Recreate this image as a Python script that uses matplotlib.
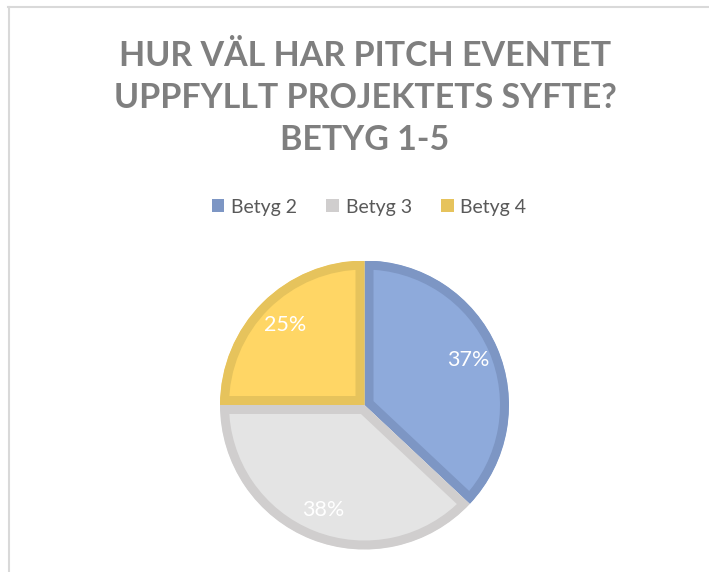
import matplotlib.pyplot as plt
from matplotlib.patches import Patch, Wedge
from matplotlib.lines import Line2D

# data
categories = ['Betyg 2', 'Betyg 3', 'Betyg 4']
values = [37, 38, 25]
title = 'HUR VÄL HAR PITCH EVENTET\nUPPFYLLT PROJEKTETS SYFTE?\nBETYG 1-5'

fills = ['#8eaadb', '#e4e4e4', '#ffd665']
borders = ['#7d96c4', '#d0cece', '#e6c35c']

W, H = 709, 572
fig = plt.figure(figsize=(W / 100, H / 100), dpi=100)
fig.patch.set_facecolor('white')

# chart frame (only top and left visible)
fig.add_artist(Line2D([8 / W, 1], [1 - 7 / H, 1 - 7 / H], color='#d9d9d9', lw=1.5))
fig.add_artist(Line2D([8.5 / W, 8.5 / W], [0, 1 - 7 / H], color='#d9d9d9', lw=1.5))

fig.text(365 / W, 1 - 98 / H, title, ha='center', va='center',
         fontsize=24.5, fontweight='bold', color='#7f7f7f', family=['Lato', 'DejaVu Sans'],
         linespacing=1.4)

cx, cy, r = 364.5, 405, 144.5
ax = fig.add_axes([(cx - r) / W, (H - cy - r) / H, 2 * r / W, 2 * r / H])
wedges, texts, autotexts = ax.pie(values, colors=fills, startangle=90, counterclock=False,
                                  radius=1, autopct='%.0f%%', pctdistance=0.78,
                                  textprops=dict(color='white', fontsize=15.5,
                                                 family=['Lato', 'DejaVu Sans']))
ax.set_xlim(-1, 1)
ax.set_ylim(-1, 1)
ax.set_aspect('equal')
ax.axis('off')

# inner border: thick edge clipped to a copy of the wedge
for w, ec in zip(wedges, borders):
    clip = Wedge(w.center, w.r, w.theta1, w.theta2, transform=ax.transData)
    w.set_edgecolor(ec)
    w.set_linewidth(18 * 72 / 100)
    w.set_clip_on(True)
    w.set_clip_path(clip)

handles = [Patch(facecolor=c, edgecolor='none') for c in borders]
fig.legend(handles, categories, loc='center', bbox_to_anchor=(369 / W, 1 - 207 / H),
           ncol=3, frameon=False, handlelength=0.65, handleheight=0.65,
           handletextpad=0.35, columnspacing=1.5, labelcolor='#595959',
           prop=dict(family=['Lato', 'DejaVu Sans'], size=14))

fig.savefig('out.png', dpi=100)
